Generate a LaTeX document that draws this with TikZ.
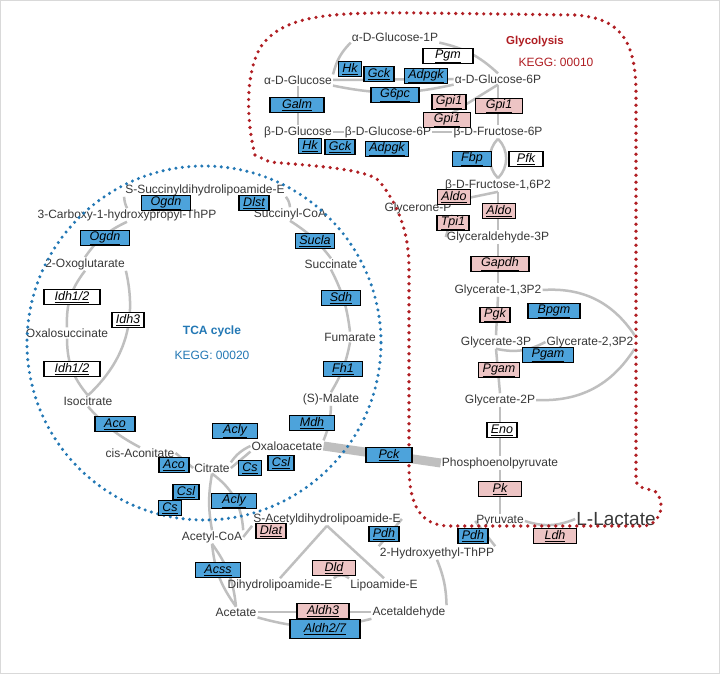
\documentclass[tikz,border=0pt]{standalone}
\usepackage{fontspec}
\setmainfont{Liberation Sans}
\pgfdeclarelayer{background}
\pgfsetlayers{background,main}
\begin{document}
\begin{tikzpicture}[x=1pt,y=-1pt,
 met/.style={font=\fontsize{12}{13}\selectfont, text=black!78, inner sep=1pt},
 enz/.style={draw=black, line width=1.5pt, inner xsep=4pt, inner ysep=0.5pt, minimum height=15pt, font=\fontsize{12.5}{13}\selectfont\itshape},
 bl/.style={enz, fill=blueE},
 pk/.style={enz, fill=pinkE},
 wh/.style={enz, fill=white},
 rx/.style={draw=black!25, line width=2.5pt},
 rxw/.style={draw=black!25, line width=9pt}]
\definecolor{blueE}{HTML}{4DA3DB}
\definecolor{pinkE}{HTML}{EDC4C4}
\definecolor{redD}{HTML}{B01E23}
\definecolor{blueD}{HTML}{2378B5}
\useasboundingbox (0,0) rectangle (720,674);
\begin{pgfonlayer}{background}
\fill[white] (0,0) rectangle (720,674);
\draw[black!15] (0.5,0.5) rectangle (719.5,673.5);
\end{pgfonlayer}
% metabolites
\node[met] (aG1P) at (395,37) {α-D-Glucose-1P};
\node[met] (aGlc) at (298,80) {α-D-Glucose};
\node[met] (aG6P) at (498,79) {α-D-Glucose-6P};
\node[met] (bGlc) at (298,132) {β-D-Glucose};
\node[met] (bG6P) at (388,132) {β-D-Glucose-6P};
\node[met] (bF6P) at (498,132) {β-D-Fructose-6P};
\node[met] (F16) at (498,185) {β-D-Fructose-1,6P2};
\node[met] (GlyP) at (418,208) {Glycerone-P};
\node[met] (GA3P) at (498,237) {Glyceraldehyde-3P};
\node[met] (G13) at (498,290) {Glycerate-1,3P2};
\node[met] (G3P) at (496,342) {Glycerate-3P};
\node[met] (G23) at (590,342) {Glycerate-2,3P2};
\node[met] (G2P) at (500,400) {Glycerate-2P};
\node[met] (PEP) at (500,463) {Phosphoenolpyruvate};
\node[met] (Pyr) at (500,521) {Pyruvate};
\node[met,font=\fontsize{19}{20}\selectfont] (Lac) at (616,519) {L-Lactate};
\node[met] (HET) at (437,553) {2-Hydroxyethyl-ThPP};
\node[met] (SAD) at (327,519) {S-Acetyldihydrolipoamide-E};
\node[met] (AcCoA) at (212,537) {Acetyl-CoA};
\node[met] (DHL) at (280,585) {Dihydrolipoamide-E};
\node[met] (LipE) at (384,585) {Lipoamide-E};
\node[met] (Acet) at (236,612) {Acetate};
\node[met] (Acald) at (409,612) {Acetaldehyde};
\node[met] (SSuc) at (205,190) {S-Succinyldihydrolipoamide-E};
\node[met] (CHP) at (127,215) {3-Carboxy-1-hydroxypropyl-ThPP};
\node[met] (SucCoA) at (290,214) {Succinyl-CoA};
\node[met] (OG) at (85,264) {2-Oxoglutarate};
\node[met] (Succ) at (331,264) {Succinate};
\node[met] (Oxs) at (67,333) {Oxalosuccinate};
\node[met] (Fum) at (350,337) {Fumarate};
\node[met] (Iso) at (88,401) {Isocitrate};
\node[met] (Mal) at (331,399) {(S)-Malate};
\node[met] (Oaa) at (287,446) {Oxaloacetate};
\node[met] (cisA) at (140,453) {cis-Aconitate};
\node[met] (Cit) at (212,468) {Citrate};
% connectors (behind)
\begin{pgfonlayer}{background}
\path[rx] (aGlc.north east) to[bend left=15] (aG1P.south west);
\path[rx] (aG1P.south east) to[bend left=15] (aG6P.north);
\path[rx] (aGlc.east) -- (aG6P.west);
\path[rx] (aGlc.south east) to[bend right=12] (aG6P.south west);
\path[rx] (aGlc.south) -- (bGlc.north);
\path[rx] (bGlc.east) -- (bG6P.west);
\path[rx] (bG6P.north east) -- (aG6P.south);
\path[rx] (bG6P.east) -- (bF6P.west);
\path[rx] (aG6P.south) -- (bF6P.north);
\path[rx] (bF6P.south) to[bend right=45] (F16.north);
\path[rx] (bF6P.south) to[bend left=45] (F16.north);
\path[rx] (F16.south) -- (GA3P.north);
\path[rx] (F16.south) -- (GlyP.north east);
\path[rx] (GlyP.south east) -- (GA3P.west);
\path[rx] (GA3P.south) -- (G13.north);
\path[rx] (G13.south) -- (G3P.north);
\path[rx] (G3P.south) -- (G2P.north);
\path[rx] (G13.east) to[bend left=30] (G23.north east);
\path[rx] (G23.west) to[bend left=20] (G3P.south);
\path[rx] (G23.south east) to[bend left=30] (G2P.east);
\path[rx] (G2P.south) -- (PEP.north);
\path[rx] (PEP.south) -- (Pyr.north);
\path[rx] (Pyr.east) to[bend right=20] (Lac.west);
\path[rxw] (Oaa.east) -- (PEP.west);
\path[rx] (Pyr.west) -- (HET.north east);
\path[rx] (HET.north west) -- (SAD.east);
\path[rx] (HET.south) to[bend left=10] (Acald.north east);
\path[rx] (SAD.south west) -- (AcCoA.east);
\path[rx] (SAD.south) -- (DHL.north);
\path[rx] (SAD.south) -- (LipE.north);
\path[rx] (DHL.north east) to[bend left=40] (LipE.north west);
\path[rx] (AcCoA.south) to[bend right=15] (Acet.north);
\path[rx] (AcCoA.south) to[bend left=15] (Acet.north);
\path[rx] (Acet.east) -- (Acald.west);
\path[rx] (Acet.south east) to[bend right=15] (Acald.south west);
\path[rx] (AcCoA.north) to[bend left=10] (Cit.south);
\path[rx] (Cit.south) to[bend left=25] (AcCoA.north east);
\path[rx] (Cit.east) -- (Oaa.south west);
\path[rx] (Cit.north east) to[bend left=15] (Oaa.west);
\path[rx] (Cit.west) -- (cisA.east);
\path[rx] (cisA.north) to[bend left=10] (Iso.south);
\path[rx] (Iso.north) to[bend left=20] (Oxs.south);
\path[rx] (Oxs.north) to[bend left=20] (OG.south);
\path[rx] (Iso.north) to[bend right=30] (OG.south east);
\path[rx] (OG.north) to[bend left=15] (CHP.south);
\path[rx] (CHP.north) to[bend left=10] (SSuc.south west);
\path[rx] (SSuc.south east) to[bend left=15] (SucCoA.north);
\path[rx] (SucCoA.south) to[bend left=10] (Succ.north);
\path[rx] (Succ.south) to[bend left=10] (Fum.north);
\path[rx] (Fum.south) to[bend left=10] (Mal.north);
\path[rx] (Mal.south) to[bend left=10] (Oaa.north east);
\end{pgfonlayer}
% borders
\draw[blueD, line width=3.4pt, dash pattern=on 0pt off 6.5pt, line cap=round] (204,343) circle (177);
\draw[redD, line width=3.6pt, dash pattern=on 0pt off 7pt, line cap=round]
 (255,155) .. controls (246,120) and (245,70) .. (262,45) .. controls (285,15) and (330,12) .. (420,13)
 -- (575,15) .. controls (620,18) and (635,40) .. (636,90) -- (636,480) .. controls (637,490) and (650,488) .. (656,492)
 .. controls (664,500) and (664,522) .. (645,526) -- (450,526) .. controls (420,526) and (410,505) .. (409,470)
 -- (409,265) .. controls (408,220) and (390,195) .. (380,182) .. controls (370,168) and (300,165) .. (270,162) -- cycle;
\node[font=\fontsize{11.5}{12}\selectfont\bfseries, text=redD] (glyT) at (535,42) {Glycolysis};
\node[font=\fontsize{12}{13}\selectfont, text=redD] (glyK) at (556,62) {KEGG: 00010};
\node[font=\fontsize{12}{13}\selectfont\bfseries, text=blueD] (tcaT) at (212,331) {TCA cycle};
\node[font=\fontsize{12}{13}\selectfont, text=blueD] (tcaK) at (212,355) {KEGG: 00020};
% enzymes
\node[wh,minimum width=50pt] (Pgm) at (448,56) {\underline{Pgm}};
\node[bl] (Hk1) at (350,69) {\underline{Hk}};
\node[bl] (Gck1) at (379,74) {\underline{Gck}};
\node[bl] (Adpgk1) at (426,76) {\underline{Adpgk}};
\node[bl,minimum width=48pt] (G6pc) at (395,95) {\underline{G6pc}};
\node[bl,minimum width=54pt] (Galm) at (297,105) {\underline{Galm}};
\node[pk] (Gpi1a) at (449,102) {\underline{Gpi1}};
\node[pk,minimum width=47pt] (Gpi1b) at (499,106) {\underline{Gpi1}};
\node[pk,minimum width=47pt] (Gpi1c) at (447,120) {\underline{Gpi1}};
\node[bl] (Hk2) at (310,146) {\underline{Hk}};
\node[bl] (Gck2) at (340,147) {\underline{Gck}};
\node[bl] (Adpgk2) at (387,149) {\underline{Adpgk}};
\node[bl,minimum width=39pt] (Fbp) at (472,159) {\underline{Fbp}};
\node[wh,minimum width=34pt] (Pfk) at (526,159) {\underline{Pfk}};
\node[pk] (Aldo1) at (454,197) {\underline{Aldo}};
\node[pk] (Aldo2) at (499,211) {\underline{Aldo}};
\node[pk] (Tpi1) at (453,223) {\underline{Tpi1}};
\node[pk,minimum width=58pt] (Gapdh) at (500,264) {\underline{Gapdh}};
\node[pk] (Pgk) at (495,315) {\underline{Pgk}};
\node[bl,minimum width=52pt] (Bpgm) at (554,311) {\underline{Bpgm}};
\node[bl,minimum width=51pt] (Pgam1) at (548,355) {\underline{Pgam}};
\node[pk] (Pgam2) at (499,370) {\underline{Pgam}};
\node[wh] (Eno) at (502,430) {\underline{Eno}};
\node[pk,minimum width=43pt] (Pk) at (500,489) {\underline{Pk}};
\node[bl] (Pdh2) at (473,536) {\underline{Pdh}};
\node[pk,minimum width=43pt] (Ldh) at (555,536) {\underline{Ldh}};
\node[bl,minimum width=46pt] (Pck) at (389,455) {\underline{Pck}};
\node[bl] (Sucla) at (315,241) {\underline{Sucla}};
\node[bl] (Dlst) at (254,203) {\underline{Dlst}};
\node[bl,minimum width=49pt] (Ogdn1) at (166,203) {\underline{Ogdn}};
\node[bl,minimum width=49pt] (Ogdn2) at (105,238) {\underline{Ogdn}};
\node[wh,minimum width=56pt] (Idh1) at (72,297) {\underline{Idh1/2}};
\node[wh] (Idh3) at (128,320) {\underline{Idh3}};
\node[wh,minimum width=56pt] (Idh2) at (72,369) {\underline{Idh1/2}};
\node[bl,minimum width=40pt] (Aco1) at (115,424) {\underline{Aco}};
\node[bl] (Aco2) at (174,465) {\underline{Aco}};
\node[bl,minimum width=45pt] (Acly1) at (235,431) {\underline{Acly}};
\node[bl] (Cs1) at (250,468) {\underline{Cs}};
\node[bl] (Csl1) at (281,463) {\underline{Csl}};
\node[bl,minimum width=45pt] (Mdh) at (312,423) {\underline{Mdh}};
\node[bl,minimum width=39pt] (Sdh) at (341,298) {\underline{Sdh}};
\node[bl,minimum width=39pt] (Fh1) at (343,369) {\underline{Fh1}};
\node[bl] (Csl2) at (186,492) {\underline{Csl}};
\node[bl] (Cs2) at (170,508) {\underline{Cs}};
\node[bl,minimum width=45pt] (Acly2) at (234,501) {\underline{Acly}};
\node[pk] (Dlat) at (271,531) {\underline{Dlat}};
\node[bl] (Pdh1) at (384,534) {\underline{Pdh}};
\node[bl,minimum width=45pt] (Acss) at (218,570) {\underline{Acss}};
\node[pk,minimum width=43pt] (Dld) at (334,568) {\underline{Dld}};
\node[pk,minimum width=52pt] (Aldh3) at (323,611) {\underline{Aldh3}};
\node[bl,minimum width=70pt,minimum height=19pt] (Aldh27) at (325,629) {\underline{Aldh2/7}};
\end{tikzpicture}
\end{document}
